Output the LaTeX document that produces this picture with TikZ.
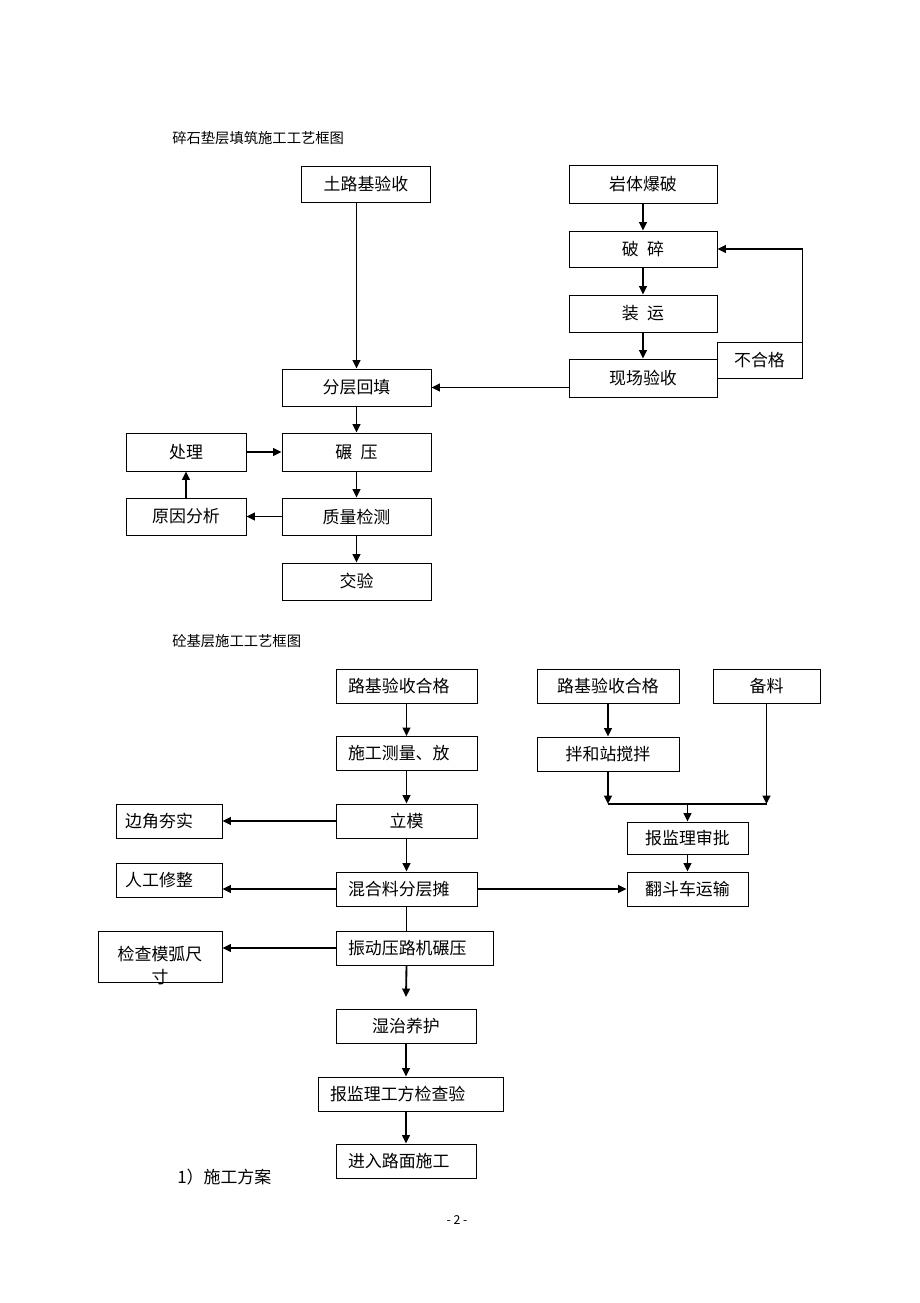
\documentclass[tikz,border=0pt]{standalone}
\usepackage{fontspec}
\setmainfont{Noto Sans CJK SC}
\usepackage{tikz}
\usetikzlibrary{arrows.meta}

\begin{document}
\begin{tikzpicture}[x=0.65pt, y=-0.65pt,
        box_style/.style={draw=black, line width=0.55pt, inner sep=0pt, font=\fontsize{11}{13}\selectfont},
        box_size/.style 2 args={minimum width=#1*0.65pt, minimum height=#2*0.65pt},
        left_box_style/.style={box_style, align=left, inner xsep=7.8pt},
        edge_style/.style={draw=black, line width=1.2pt, -{Triangle[length=5.5pt,width=5pt]}},
        line_style/.style={draw=black, line width=1.2pt},
        title_style/.style={anchor=west, inner sep=0pt, font=\fontsize{9.3}{11}\selectfont}]

        \useasboundingbox (0,0) rectangle (920,1303);

        % first chart
        \node [title_style](title1) at (172,138) {碎石垫层填筑施工工艺框图};

        \node [box_style,box_size={129}{36}](t1) at (366,184) {土路基验收};

        \node [box_style,box_size={149}{37}](t2) at (356.5,387.5) {分层回填};

        \node [box_style,box_size={149}{38}](t3) at (356.5,452) {碾\hspace{0.5em}压};

        \node [box_style,box_size={149}{37}](t4) at (356.5,516.5) {质量检测};

        \node [box_style,box_size={149}{37}](t5) at (356.5,581.5) {交验};

        \node [box_style,box_size={120}{38}](t6) at (186,452) {处理};

        \node [box_style,box_size={120}{37}](t7) at (186,516.5) {原因分析};

        \node [box_style,box_size={148}{38}](r1) at (643,184) {岩体爆破};

        \node [box_style,box_size={148}{36}](r2) at (643,249) {破\hspace{0.5em}碎};

        \node [box_style,box_size={148}{37}](r3) at (643,313.5) {装\hspace{0.5em}运};

        \node [box_style,box_size={148}{38}](r4) at (643,378) {现场验收};

        \node [box_style,box_size={85}{36}](r5) at (759.5,360) {不合格};

        \draw [edge_style] (t1.south -| t2.north) -- (t2.north);

        \draw [edge_style] (r1) -- (r2);

        \draw [edge_style] (r2) -- (r3);

        \draw [edge_style] (r3) -- (r4);

        \draw [edge_style] (r5.north east) |- (r2.east);

        \draw [edge_style] (r4.west |- t2.east) -- (t2.east);

        \draw [edge_style] (t2) -- (t3);

        \draw [edge_style] (t3) -- (t4);

        \draw [edge_style] (t4) -- (t5);

        \draw [edge_style] (t6) -- (t3);

        \draw [edge_style] (t4) -- (t7);

        \draw [edge_style] (t7) -- (t6);

        % second chart
        \node [title_style](title2) at (172,641) {砼基层施工工艺框图};

        \node [left_box_style,box_size={141}{34},text width=76.05pt](b1) at (406.5,686) {路基验收合格};

        \node [left_box_style,box_size={141}{34},text width=76.05pt](b2) at (406.5,753.5) {施工测量、放};

        \node [box_style,box_size={141}{34}](b3) at (406.5,821) {立模};

        \node [left_box_style,box_size={141}{34},text width=76.05pt](b4) at (406.5,889) {混合料分层摊};

        \node [left_box_style,box_size={157}{34},text width=86.45pt](b5) at (414.5,948) {振动压路机碾压};

        \node [box_style,box_size={140}{34}](b6) at (406,1026) {湿治养护};

        \node [left_box_style,box_size={185}{34},text width=104.65pt](b7) at (410.5,1094) {报监理工方检查验};

        \node [left_box_style,box_size={140}{34},text width=75.4pt](b8) at (406,1161) {进入路面施工};

        \node [left_box_style,inner xsep=6pt,box_size={106}{34},text width=56.9pt](s1) at (169,821) {边角夯实};

        \node [left_box_style,inner xsep=6pt,box_size={106}{34},text width=56.9pt](s2) at (169,880) {人工修整};

        \node [box_style,box_size={124}{51},font=\fontsize{11}{15}\selectfont](s3) at (160,956.5)
            {\raisebox{-7pt}[\height][\depth]{\begin{tabular}{@{}c@{}}检查模弧尺\\寸\end{tabular}}};

        \node [box_style,box_size={142}{34}](rb1) at (608,686) {路基验收合格};

        \node [box_style,box_size={142}{34}](rb2) at (608,754) {拌和站搅拌};

        \node [box_style,box_size={107}{34}](bl) at (766.5,686) {备料};

        \node [box_style,box_size={121}{32}](f1) at (687.5,838) {报监理审批};

        \node [box_style,box_size={121}{34}](f2) at (687.5,889) {翻斗车运输};

        \coordinate (c1) at (406,997);
        \coordinate (j1) at (608,804);
        \coordinate (j2) at (766.5,804);
        \coordinate (j3) at (687.5,804);

        \draw [edge_style] (b1) -- (b2);

        \draw [edge_style] (b2) -- (b3);

        \draw [edge_style] (b3) -- (b4);

        \draw [line_style] (b4.south) -- (b4.south |- b5.north);

        \draw [edge_style] (b4.south |- b5.south) -- (c1);

        \draw [edge_style] (b6.south) -- (b6.south |- b7.north);

        \draw [edge_style] (b8.north |- b7.south) -- (b8.north);

        \draw [edge_style] (b3.west) -- (s1.east |- b3.west);

        \draw [edge_style] (b4.west) -- (s2.east |- b4.west);

        \draw [edge_style] (b5.west) -- (s3.east |- b5.west);

        \draw [edge_style] (b4.east) -- (f2.west);

        \draw [edge_style] (rb1) -- (rb2);

        \draw [edge_style] (rb2.south) -- (j1);

        \draw [edge_style] (bl.south) -- (j2);

        \draw [line_style] (j1) -- (j2);

        \draw [edge_style] (j3) -- (f1.north);

        \draw [edge_style] (f1) -- (f2);

        \node [anchor=west, inner sep=0pt, font=\fontsize{11}{13}\selectfont](note) at (177,1177) {1）施工方案};

        \node [inner sep=0pt, font=\fontsize{8}{10}\selectfont](page) at (457,1220) {- 2 -};

\end{tikzpicture}
\end{document}
